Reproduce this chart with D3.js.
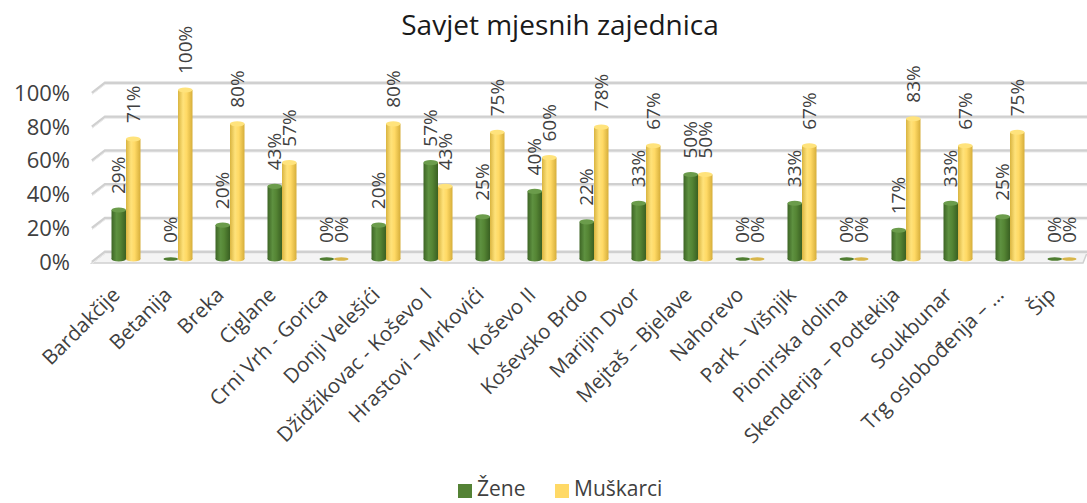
<!DOCTYPE html>
<html lang="en">
<head>
<meta charset="utf-8">
<title>Savjet mjesnih zajednica</title>
<script src="https://d3js.org/d3.v7.min.js"></script>
<style>
  body { margin: 0; background: #fff; }
  text { font-family: "Open Sans", "Noto Sans", sans-serif; fill: #404040; }
</style>
</head>
<body>
<script>
var categories = ["Bardakčije", "Betanija", "Breka", "Ciglane", "Crni Vrh - Gorica", "Donji Velešići",
  "Džidžikovac - Koševo I", "Hrastovi – Mrkovići", "Koševo II", "Koševsko Brdo", "Marijin Dvor",
  "Mejtaš – Bjelave", "Nahorevo", "Park – Višnjik", "Pionirska dolina", "Skenderija – Podtekija",
  "Soukbunar", "Trg oslobođenja – …", "Šip"];
var zene     = [0.29, 0, 0.20, 0.43, 0, 0.20, 0.57, 0.25, 0.40, 0.22, 0.33, 0.50, 0, 0.33, 0, 0.17, 0.33, 0.25, 0];
var muskarci = [0.71, 1.00, 0.80, 0.57, 0, 0.80, 0.43, 0.75, 0.60, 0.78, 0.67, 0.50, 0, 0.67, 0, 0.83, 0.67, 0.75, 0];
var seriesNames = ["Žene", "Muškarci"];
var yTicks = [0, 0.2, 0.4, 0.6, 0.8, 1.0];

var w = 1087, h = 503;
var svg = d3.select("body").append("svg").attr("width", w).attr("height", h);

// depth offset of the back wall
var dx = 13, dy = -10;

var x = d3.scaleBand().domain(categories).range([100, 1088]).paddingInner(0).paddingOuter(0);
var y = d3.scaleLinear().domain([0, 1]).range([262, 93]);
var barW = 14.5;

svg.append("text")
  .attr("x", 560).attr("y", 35)
  .attr("text-anchor", "middle")
  .style("font-size", "28px")
  .style("fill", "#1a1a1a")
  .text("Savjet mjesnih zajednica");

// gradients
var defs = svg.append("defs");
function grad(id, stops) {
  var g = defs.append("linearGradient").attr("id", id).attr("x1", "0%").attr("x2", "100%");
  stops.forEach(function(s) { g.append("stop").attr("offset", s[0]).attr("stop-color", s[1]); });
}
grad("gGreen", [["0%", "#3d6525"], ["35%", "#5e9140"], ["60%", "#558534"], ["100%", "#3a6022"]]);
grad("gYellow", [["0%", "#d9b440"], ["35%", "#ffe27a"], ["60%", "#ffd965"], ["100%", "#d6ae3a"]]);

// floor
var floorY = y(0);
svg.append("path")
  .attr("d", "M92," + (floorY + 1) + "L1083," + (floorY + 1) + "L1087," + (floorY + dy + 1) +
             "L" + (92 + dx) + "," + (floorY + dy + 1) + "Z")
  .attr("fill", "#f4f4f4").attr("stroke", "#d0d0d0").attr("stroke-width", 1.5);

// gridlines with slanted side wall edge
var grid = svg.append("g");
yTicks.forEach(function(t) {
  var yf = y(t);
  grid.append("path")
    .attr("d", "M92," + yf + "L" + (92 + dx) + "," + (yf + dy) + "L1087," + (yf + dy))
    .attr("fill", "none").attr("stroke", "#d0d0d0").attr("stroke-width", 2.8);
  grid.append("path")
    .attr("d", "M92," + (yf + 1.5) + "L" + (92 + dx) + "," + (yf + dy + 1.5) + "L1087," + (yf + dy + 1.5))
    .attr("fill", "none").attr("stroke", "#ececec").attr("stroke-width", 1);
});

// y axis labels
svg.append("g").selectAll("text").data(yTicks).enter().append("text")
  .attr("x", 70).attr("y", function(d) { return y(d); })
  .attr("dy", "0.35em")
  .attr("text-anchor", "end")
  .style("font-size", "22px")
  .text(d3.format(".0%"));

// bars as cylinders
var barBase = -3;
var groups = svg.append("g").selectAll("g.cat").data(categories).enter().append("g").attr("class", "cat");
var series = [{vals: zene, fill: "url(#gGreen)", top: "#6b9c4b", zero: "#4f7d31", off: 0},
              {vals: muskarci, fill: "url(#gYellow)", top: "#ffe37c", zero: "#d8b64a", off: 1}];

series.forEach(function(s) {
  groups.each(function(c, i) {
    var g = d3.select(this);
    var v = s.vals[i];
    var cx = x(c) + x.bandwidth() / 2 - barW + s.off * barW + barW / 2;
    var yb = y(0) + barBase, yt = y(v) + barBase;
    var ry = 2.6;
    if (v === 0) {
      g.append("ellipse").attr("cx", cx).attr("cy", yb).attr("rx", barW / 2).attr("ry", 1.8)
        .attr("fill", s.zero);
    } else {
      g.append("ellipse").attr("cx", cx).attr("cy", yb).attr("rx", barW / 2).attr("ry", ry)
        .attr("fill", s.fill);
      g.append("rect").attr("x", cx - barW / 2).attr("y", yt).attr("width", barW).attr("height", yb - yt)
        .attr("fill", s.fill);
      g.append("ellipse").attr("cx", cx).attr("cy", yt).attr("rx", barW / 2).attr("ry", ry)
        .attr("fill", s.top);
    }
    g.append("text")
      .attr("transform", "translate(" + cx + "," + (yt - 16) + ") rotate(-90)")
      .attr("dy", "0.35em")
      .style("font-size", "19px")
      .text(d3.format(".0%")(v));
  });
});

// category labels
svg.append("g").selectAll("text").data(categories).enter().append("text")
  .attr("transform", function(d) { return "translate(" + (x(d) + x.bandwidth() / 2 - 10) + ",291) rotate(-45)"; })
  .attr("text-anchor", "end")
  .attr("dy", "0.35em")
  .style("font-size", "20.5px")
  .text(function(d) { return d; });

// legend
var legend = svg.append("g").attr("transform", "translate(458,496)");
var lx = [0, 97];
seriesNames.forEach(function(n, i) {
  legend.append("rect").attr("x", lx[i]).attr("y", -12).attr("width", 14).attr("height", 14)
    .attr("fill", i === 0 ? "#548235" : "#ffd966");
  legend.append("text").attr("x", lx[i] + 19).attr("y", 0)
    .style("font-size", "21px").text(n);
});
</script>
</body>
</html>
